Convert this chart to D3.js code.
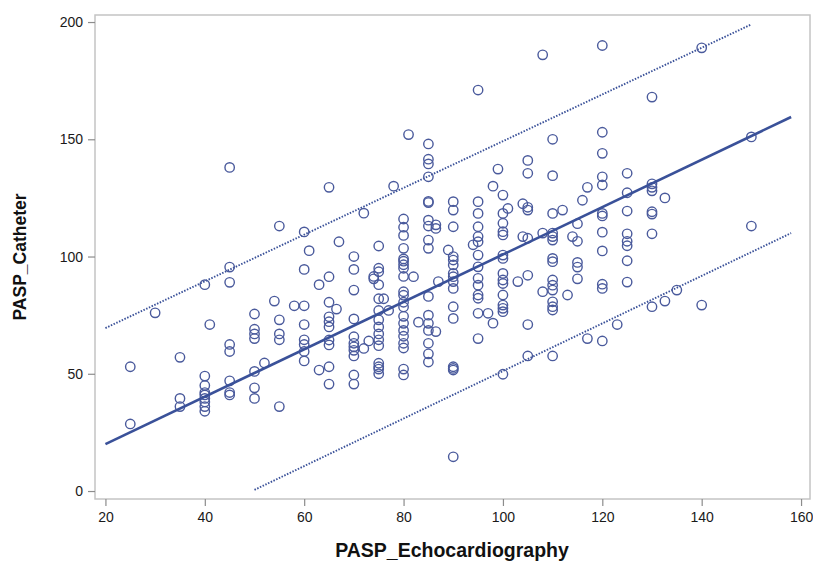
<!DOCTYPE html>
<html>
<head>
<meta charset="utf-8">
<script src="https://cdn.jsdelivr.net/npm/d3@7"></script>
<style>
    body { margin: 0; background: #fff; }
    text { font-family: "Liberation Sans", Arial, sans-serif; }
</style>
</head>
<body>
<div id="chart"></div>
<script>
// echo value -> catheter values, one group per x position
const echoX = [25, 30, 35, 40, 41, 45, 50, 52, 54, 55, 58, 60, 61, 63, 65, 66.5, 67, 70, 72, 73, 74, 75, 76, 77, 78,
    80, 81, 82, 83, 85, 86.5, 87, 89, 90, 94, 95, 97, 98, 99, 100, 101, 103, 104, 105, 108, 110, 112, 113, 114,
    115, 116, 117, 120, 123, 125, 130, 132.6, 135, 140, 150];
const catheterY = [
    [53, 28.6],
    [76],
    [57, 39.5, 36],
    [88, 49, 45, 42, 41, 39.5, 38, 36, 34],
    [71],
    [138, 95.5, 89, 62.5, 59.5, 47, 42, 41],
    [75.5, 69, 67, 65, 51, 44, 39.5],
    [54.6],
    [81],
    [113, 73, 67, 64.5, 36],
    [79],
    [110.5, 94.5, 79, 71, 64.5, 62.5, 59.5, 55.5],
    [102.5],
    [88, 51.6],
    [129.5, 91.4, 80.5, 74.3, 72.2, 70, 64.4, 62.3, 53, 45.6],
    [77.6],
    [106.3],
    [100, 94.5, 85.7, 73.4, 65.8, 63, 61.5, 60, 57.6, 49.5, 45.6],
    [118.5, 60.8],
    [64],
    [91.5, 90.5],
    [104.5, 95, 93.5, 88, 82, 77, 73, 70, 67, 64.5, 62, 54.5, 53, 52, 50],
    [82],
    [77],
    [130],
    [116, 112.5, 109, 103.5, 99, 98, 96.5, 95, 91.5, 85, 83.5, 80.5, 78.5, 74.5, 71.5, 68.5, 66, 63, 61, 52, 49.5],
    [152],
    [91.4],
    [72],
    [148, 141.5, 139.5, 134, 123.5, 123, 115.5, 113, 107, 103.5, 83, 75, 71.5, 68.5, 63, 58.5, 55],
    [113.5, 112, 68],
    [89.3],
    [102.8],
    [123.4, 119.8, 112.7, 100, 98.5, 96.4, 92.8, 91.4, 89.3, 86.4, 78.6, 73.6, 53, 52.3, 51.6, 14.6],
    [105],
    [171, 123.4, 118.4, 112.7, 108.5, 106.3, 100.6, 95.6, 90.7, 87.8, 83.6, 82.2, 75.8, 65],
    [75.8],
    [130, 71.6],
    [137.3],
    [126.2, 118.4, 114.2, 110.6, 109.2, 100.6, 99.2, 92.8, 90, 88.5, 83.6, 79.3, 77.9, 76.5, 49.8],
    [120.5],
    [89.3],
    [122.5, 108.5],
    [141, 135.5, 121, 119.8, 107.8, 92, 71, 57.6],
    [186, 110, 85],
    [150, 134.5, 118.4, 110, 108.5, 107, 99.2, 97.8, 90, 87.8, 85.7, 80.7, 78.6, 77.2, 57.6],
    [119.8],
    [83.6],
    [108.5],
    [114, 106.5, 97.5, 95.5, 90.5],
    [124],
    [129.5, 65],
    [190, 153, 144, 134, 130.5, 118.4, 117.3, 110.4, 102.4, 88.2, 86.4, 64],
    [71],
    [135.5, 127.2, 119.4, 109.7, 106.5, 104.6, 98.2, 89.1],
    [168, 131, 129.5, 128, 119.1, 118.1, 109.7, 78.6],
    [125, 81],
    [85.7],
    [189, 79.3],
    [151, 113]
];

// fit line and prediction limits (end points)
const fitX = [20, 158], fitY = [20, 159.5];
const upperX = [20, 150], upperY = [69.5, 199];
const lowerX = [50, 158], lowerY = [0.5, 110];

const xTicks = [20, 40, 60, 80, 100, 120, 140, 160];
const yTicks = [0, 50, 100, 150, 200];

const width = 813, height = 562;
const plotL = 95, plotR = 810, plotT = 15, plotB = 499;
const blue = "#3a5199", ptColor = "#4a5a9c";

const svg = d3.select("#chart").append("svg")
    .attr("width", width)
    .attr("height", height);

const x = d3.scaleLinear().domain([17.9, 161.8]).range([plotL, plotR]);
const y = d3.scaleLinear().domain([-3.4, 203]).range([plotB, plotT]);

const points = [];
echoX.forEach((ex, i) => catheterY[i].forEach(cy => points.push([ex, cy])));

// frame
svg.append("rect")
    .attr("x", plotL).attr("y", plotT)
    .attr("width", plotR - plotL).attr("height", plotB - plotT)
    .attr("fill", "none")
    .attr("stroke", "#c4c4c4")
    .attr("stroke-width", 1.5);

const xAxis = svg.append("g")
    .attr("transform", `translate(0,${plotB})`)
    .call(d3.axisBottom(x).tickValues(xTicks).tickSize(7).tickPadding(6));
const yAxis = svg.append("g")
    .attr("transform", `translate(${plotL},0)`)
    .call(d3.axisLeft(y).tickValues(yTicks).tickSize(7).tickPadding(5));

[xAxis, yAxis].forEach(g => {
    g.select(".domain").remove();
    g.selectAll(".tick line").attr("stroke", "#8c8c8c").attr("stroke-width", 1.2);
    g.selectAll(".tick text")
        .attr("fill", "#1a1a1a")
        .style("font-size", "14px")
        .style("font-family", "Liberation Sans, Arial, sans-serif");
});

const line = d3.line().x(d => x(d[0])).y(d => y(d[1]));

svg.append("path")
    .datum(d3.zip(upperX, upperY))
    .attr("d", line)
    .attr("fill", "none")
    .attr("stroke", blue)
    .attr("stroke-width", 1.9)
    .attr("stroke-dasharray", "1.5,1.5");

svg.append("path")
    .datum(d3.zip(lowerX, lowerY))
    .attr("d", line)
    .attr("fill", "none")
    .attr("stroke", blue)
    .attr("stroke-width", 1.9)
    .attr("stroke-dasharray", "1.5,1.5");

svg.append("g")
    .selectAll("circle")
    .data(points)
    .join("circle")
    .attr("cx", d => x(d[0]))
    .attr("cy", d => y(d[1]))
    .attr("r", 4.7)
    .attr("fill", "none")
    .attr("stroke", ptColor)
    .attr("stroke-width", 1.4);

svg.append("path")
    .datum(d3.zip(fitX, fitY))
    .attr("d", line)
    .attr("fill", "none")
    .attr("stroke", blue)
    .attr("stroke-width", 2.6);

svg.append("text")
    .attr("x", 452)
    .attr("y", 557)
    .attr("text-anchor", "middle")
    .attr("font-weight", "bold")
    .attr("font-size", 19.5)
    .attr("fill", "#111")
    .text("PASP_Echocardiography");

svg.append("text")
    .attr("transform", `translate(26,${(plotT + plotB) / 2}) rotate(-90)`)
    .attr("text-anchor", "middle")
    .attr("font-weight", "bold")
    .attr("font-size", 17.5)
    .attr("fill", "#111")
    .text("PASP_Catheter");
</script>
</body>
</html>
